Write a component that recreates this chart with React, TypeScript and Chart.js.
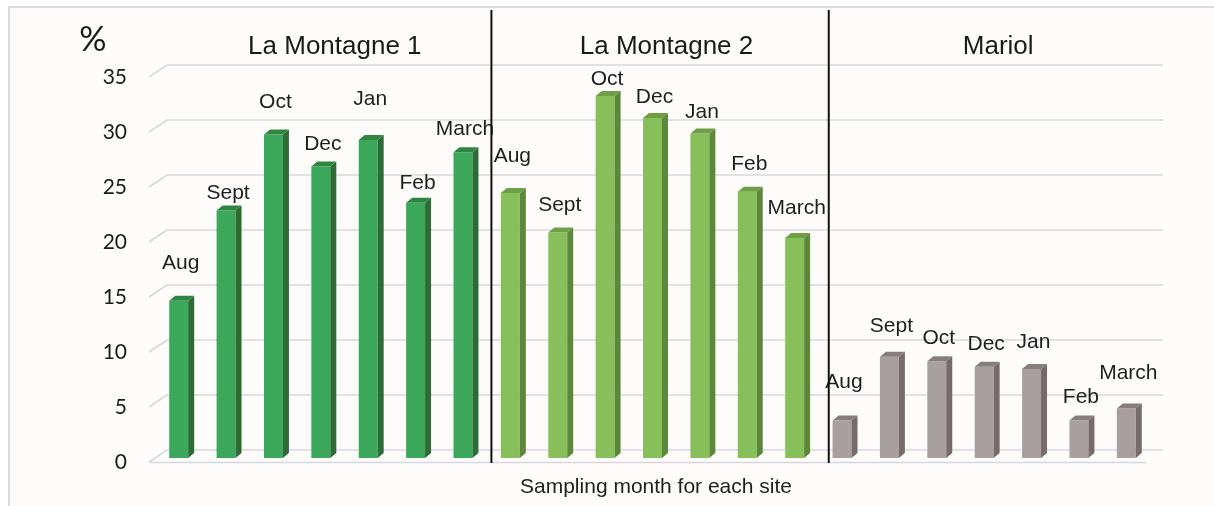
import React, { useEffect, useRef } from "react";
import { Chart, registerables } from "chart.js";

Chart.register(...registerables);

const sites = ["La Montagne 1", "La Montagne 2", "Mariol"];
const months = ["Aug", "Sept", "Oct", "Dec", "Jan", "Feb", "March"];
const montagne1 = [14.3, 22.5, 29.4, 26.5, 28.9, 23.2, 27.8];
const montagne2 = [24.1, 20.5, 32.9, 30.9, 29.5, 24.2, 20.0];
const mariol = [3.4, 9.2, 8.8, 8.3, 8.1, 3.4, 4.5];
// height (in % units) at which each month label sits
const montagne1LabelAt = [17.7, 24.1, 32.3, 28.5, 32.6, 25.0, 29.9];
const montagne2LabelAt = [27.4, 23.0, 34.4, 32.8, 31.4, 26.7, 22.7];
const mariolLabelAt = [6.9, 12.0, 10.9, 10.3, 10.5, 5.5, 7.7];
const yTicks = [0, 5, 10, 15, 20, 25, 30, 35];
const yUnit = "%";
const xTitle = "Sampling month for each site";
// separators, in category-index units
const separatorsAt = [6.6, 13.72];

const W = 1214;
const H = 506;

const siteColors = [
  { front: "#3ba85b", side: "#2e6c36", top: "#2f8643" },
  { front: "#87c05b", side: "#5d883a", top: "#6e9f45" },
  { front: "#a8a09e", side: "#756b69", top: "#877d7b" },
];

export default function App() {
  const ref = useRef<HTMLCanvasElement>(null);

  useEffect(() => {
    const canvas = ref.current;
    if (!canvas) return;
    const values = [...montagne1, ...montagne2, ...mariol];
    const labelAt = [...montagne1LabelAt, ...montagne2LabelAt, ...mariolLabelAt];
    const labels = [...months, ...months, ...months];
    const siteIndex = values.map((_, i) => Math.floor(i / months.length));

    const DX = 6;
    const DY = 5;

    const decor = {
      id: "decor",
      beforeDatasetsDraw(chart: any) {
        const ctx = chart.ctx;
        const { left, right } = chart.chartArea;
        const y = chart.scales.y;
        ctx.save();
        ctx.strokeStyle = "#d7d7df";
        ctx.lineWidth = 1.6;
        yTicks.forEach((t) => {
          const py = y.getPixelForValue(t);
          ctx.beginPath();
          ctx.moveTo(left - 6, py + 4);
          ctx.lineTo(left + 12, py - 8);
          ctx.lineTo(right + 13, py - 8);
          ctx.stroke();
        });
        const p0 = y.getPixelForValue(0);
        ctx.beginPath();
        ctx.moveTo(left - 6, p0 + 4.5);
        ctx.lineTo(right - 4, p0 + 4.5);
        ctx.stroke();
        ctx.restore();
      },
      afterDatasetsDraw(chart: any) {
        const ctx = chart.ctx;
        const meta = chart.getDatasetMeta(0);
        const xs = chart.scales.x;
        const ys = chart.scales.y;
        const { left, right, bottom } = chart.chartArea;
        ctx.save();
        // 3D faces
        meta.data.forEach((bar: any, i: number) => {
          const p = bar.getProps(["x", "y", "base", "width"], true);
          const c = siteColors[siteIndex[i]];
          const xl = p.x - p.width / 2;
          const xr = p.x + p.width / 2;
          ctx.fillStyle = c.side;
          ctx.beginPath();
          ctx.moveTo(xr, p.y);
          ctx.lineTo(xr + DX, p.y - DY);
          ctx.lineTo(xr + DX, p.base - DY);
          ctx.lineTo(xr, p.base);
          ctx.closePath();
          ctx.fill();
          ctx.fillStyle = c.top;
          ctx.beginPath();
          ctx.moveTo(xl, p.y);
          ctx.lineTo(xl + DX, p.y - DY);
          ctx.lineTo(xr + DX, p.y - DY);
          ctx.lineTo(xr, p.y);
          ctx.closePath();
          ctx.fill();
        });
        // month labels
        ctx.fillStyle = "#1e1e1e";
        ctx.font = '21px "Liberation Sans", Arial, sans-serif';
        ctx.textAlign = "center";
        ctx.textBaseline = "middle";
        meta.data.forEach((bar: any, i: number) => {
          const p = bar.getProps(["x"], true);
          ctx.fillText(labels[i], p.x + 2, ys.getPixelForValue(labelAt[i]));
        });
        // separators
        const w = (right - left) / labels.length;
        ctx.strokeStyle = "#111";
        ctx.lineWidth = 2;
        separatorsAt.forEach((s) => {
          const px = left + (s + 0.5) * w;
          ctx.beginPath();
          ctx.moveTo(px, 10);
          ctx.lineTo(px, bottom + 5);
          ctx.stroke();
        });
        // site titles
        ctx.font = '26px "Liberation Sans", Arial, sans-serif';
        ctx.fillStyle = "#1a1a1a";
        sites.forEach((s, g) => {
          const a = xs.getPixelForValue(g * months.length);
          const b = xs.getPixelForValue(g * months.length + months.length - 1);
          ctx.fillText(s, (a + b) / 2 + 14, 47);
        });
        // y ticks
        ctx.font = '21px Lato, "Open Sans", sans-serif';
        ctx.textAlign = "right";
        ctx.fillStyle = "#1a1a1a";
        yTicks.forEach((t) => {
          ctx.fillText(String(t), 127, ys.getPixelForValue(t) + 4);
        });
        // unit
        ctx.textAlign = "center";
        ctx.font = '34px Lato, "Open Sans", sans-serif';
        ctx.fillText(yUnit, 93, 40);
        // x title
        ctx.font = '21px "Liberation Sans", Arial, sans-serif';
        ctx.fillStyle = "#1e1e1e";
        ctx.fillText(xTitle, 656, 487);
        ctx.restore();
      },
    };

    const chart = new Chart(canvas, {
      type: "bar",
      data: {
        labels,
        datasets: [
          {
            data: values,
            backgroundColor: siteIndex.map((s) => siteColors[s].front),
            borderWidth: 0,
            barPercentage: 0.4,
            categoryPercentage: 1,
          },
        ],
      },
      options: {
        responsive: false,
        devicePixelRatio: 1,
        animation: false,
        layout: { padding: { left: 155, right: 64, top: 73, bottom: 48 } },
        plugins: { legend: { display: false }, tooltip: { enabled: false } },
        scales: {
          x: { type: "category", display: false, offset: true, grid: { display: false } },
          y: { display: false, min: 0, max: 35, grid: { display: false } },
        },
      },
      plugins: [decor],
    });
    return () => chart.destroy();
  }, []);

  return (
    <div style={{ position: "fixed", left: 0, top: 0, width: W, height: H, background: "#fff" }}>
      <div
        style={{
          position: "absolute",
          left: 8,
          top: 6,
          right: 0,
          bottom: 0,
          borderTop: "2px solid #dadadd",
          borderLeft: "2px solid #dadadd",
          background: "#fdfcfb",
        }}
      />
      <canvas
        ref={ref}
        width={W}
        height={H}
        style={{ position: "absolute", left: 0, top: 0, width: W, height: H }}
      />
    </div>
  );
}
